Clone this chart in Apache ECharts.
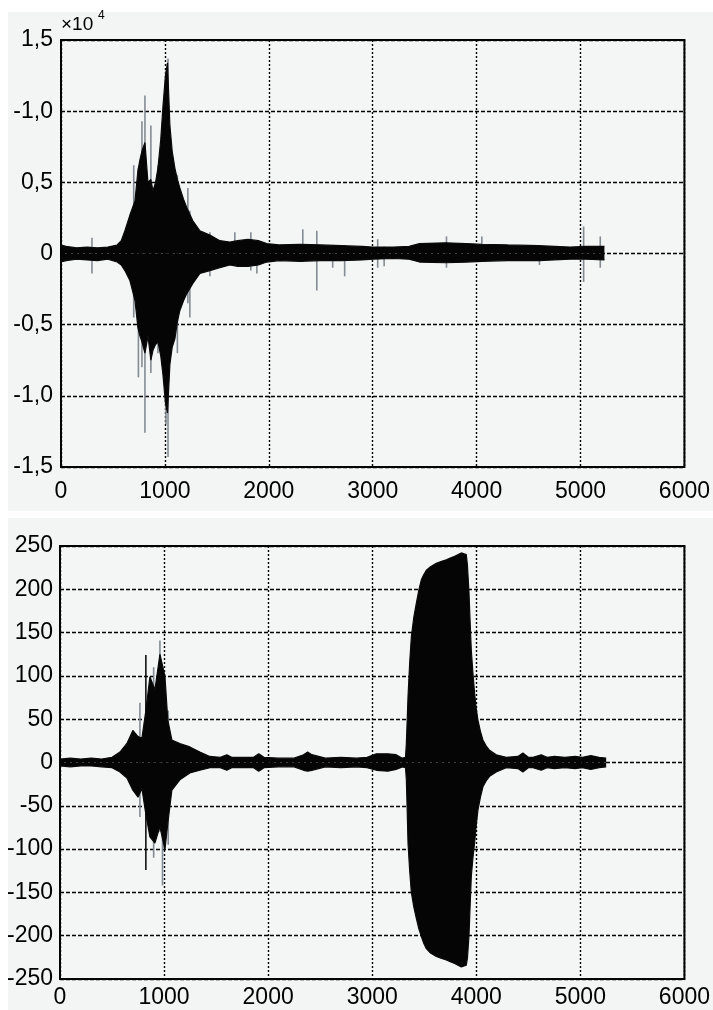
<!DOCTYPE html>
<html>
<head>
<meta charset="utf-8">
<script src="https://cdn.jsdelivr.net/npm/echarts@6/dist/echarts.min.js"></script>
<style>
html,body{margin:0;padding:0;background:#ffffff;}
#chart{width:713px;height:1010px;}
</style>
</head>
<body>
<div id="chart"></div>
<script>
// ---------- Top panel (values in units of 10^4) ----------
var topX  = [0,50,150,250,350,450,540,580,615,663,712,740,760,779,808,837,865,885,910,933,960,981,1005,1025,1048,1070,1096,1120,1144,1180,1212,1269,1337,1433,1529,1625,1700,1800,1900,1980,2100,2300,2500,2700,2900,3000,3200,3350,3450,3700,3900,4050,4300,4600,4900,5050,5230];
var topHi = [0.06,0.05,0.04,0.045,0.04,0.045,0.06,0.09,0.16,0.27,0.37,0.58,0.66,0.72,0.78,0.50,0.52,0.44,0.50,0.60,0.80,1.03,1.25,1.34,0.90,0.72,0.60,0.52,0.46,0.38,0.32,0.23,0.16,0.13,0.09,0.08,0.09,0.10,0.09,0.07,0.06,0.065,0.06,0.055,0.05,0.045,0.045,0.05,0.07,0.075,0.07,0.065,0.06,0.055,0.045,0.05,0.05];
var topLo = [-0.06,-0.05,-0.04,-0.045,-0.05,-0.04,-0.06,-0.08,-0.12,-0.19,-0.33,-0.52,-0.58,-0.62,-0.70,-0.58,-0.75,-0.68,-0.64,-0.62,-0.72,-0.85,-1.05,-1.12,-0.78,-0.66,-0.60,-0.48,-0.40,-0.33,-0.28,-0.21,-0.14,-0.12,-0.10,-0.08,-0.09,-0.09,-0.08,-0.06,-0.05,-0.055,-0.05,-0.05,-0.045,-0.04,-0.035,-0.04,-0.06,-0.065,-0.06,-0.055,-0.05,-0.05,-0.04,-0.04,-0.045];
var topSpikeX  = [298,700,745,779,808,865,933,1010,1030,1120,1221,1240,1433,1673,1827,1885,2327,2462,2615,2730,3048,3110,3710,4050,4605,5030,5190];
var topSpikeHi = [0.11,0.62,0.60,0.93,1.11,0.90,0.62,1.28,1.37,0.55,0.46,0.30,0.15,0.15,0.15,0.08,0.17,0.16,0.06,0.06,0.10,0.05,0.12,0.12,0.05,0.19,0.12];
var topSpikeLo = [-0.14,-0.45,-0.87,-0.80,-1.26,-0.84,-0.70,-1.20,-1.43,-0.70,-0.35,-0.45,-0.16,-0.08,-0.12,-0.14,-0.06,-0.26,-0.10,-0.16,-0.10,-0.09,-0.10,-0.06,-0.08,-0.20,-0.10];
var topYLabels = ['-1,5','-1,0','-0,5','0','0,5','-1,0','1,5'];   // bottom to top, as printed
var topYTicks  = [-1.5,-1.0,-0.5,0,0.5,1.0,1.5];

// ---------- Bottom panel ----------
var botX  = [0,100,200,300,400,500,576,643,700,750,787,825,864,912,960,1008,1036,1075,1152,1248,1344,1440,1540,1603,1650,1750,1860,1910,1960,2100,2250,2340,2380,2420,2550,2700,2850,2950,3040,3150,3230,3290,3320,3328,3335,3344,3360,3376,3400,3424,3448,3472,3496,3520,3560,3616,3660,3712,3750,3792,3856,3904,3915,3930,3940,3952,3968,3984,4000,4016,4040,4064,4096,4128,4192,4288,4400,4448,4500,4544,4624,4680,4750,4850,4950,5020,5100,5180,5248];
var botHi = [4,5,4,5,4,6,12,22,37,30,28,60,99,84,125,100,49,26,22,18,12,7,6,9,6,6,6,10,6,5,5,9,12,9,5,6,5,6,10,10,9,5,6,22,45,76,115,145,168,184,199,211,217,222,226,230,232,234,236,238,242,240,228,196,165,130,103,80,62,49,36,26,19,14,9,6,7,11,6,6,9,6,7,6,7,6,8,6,5];
var botLo = [-4,-5,-4,-4,-5,-6,-11,-18,-32,-40,-30,-60,-86,-93,-74,-101,-70,-32,-20,-12,-9,-6,-6,-9,-6,-6,-6,-10,-6,-5,-5,-9,-10,-9,-5,-6,-5,-6,-9,-10,-8,-5,-6,-20,-50,-93,-125,-150,-167,-180,-192,-201,-209,-215,-220,-224,-226,-228,-230,-232,-236,-234,-226,-200,-168,-132,-110,-93,-72,-55,-40,-28,-21,-16,-11,-6,-7,-11,-6,-6,-9,-6,-7,-6,-7,-6,-8,-6,-5];
var botSpikeX  = [768,825,900,960,985,1040];
var botSpikeHi = [69,124,110,141,110,60];
var botSpikeLo = [-63,-124,-110,-80,-142,-95];
var botSpikeBlack = [false,true,false,false,false,false];

function pairs(xs, ys){ return xs.map(function(x,i){ return [x, ys[i]]; }); }
function spikes(xs, hi, lo){ return xs.map(function(x,i){ return [x, hi[i], lo[i], i]; }); }

var FONT = "'Liberation Sans', Arial, Helvetica, sans-serif";
var FS = 23;
var chart = echarts.init(document.getElementById('chart'), null, {renderer:'canvas'});

function spikeRender(blackFlags){
  return function(params, api){
    var a = api.coord([api.value(0), api.value(1)]);
    var b = api.coord([api.value(0), api.value(2)]);
    var idx = api.value(3);
    var black = blackFlags && blackFlags[idx];
    return {type:'line', shape:{x1:a[0],y1:a[1],x2:b[0],y2:b[1]},
            style:{stroke: black ? '#050505' : '#7d868d', lineWidth: 1.6, opacity: 0.95}};
  };
}

function plainNum(v){ return String(v); }

var option = {
  animation:false,
  backgroundColor:'#ffffff',
  graphic:[
    {type:'rect', z:-10, shape:{x:8,y:12,width:705,height:499}, style:{fill:'#f3f4f4'}},
    {type:'rect', z:-10, shape:{x:8,y:518,width:705,height:492}, style:{fill:'#f3f4f4'}},
    {type:'text', x:61, y:15, z:10, style:{text:'×10', fontSize:19, fontFamily:FONT, fill:'#000'}},
    {type:'text', x:98, y:10, z:10, style:{text:'4', fontSize:12, fontFamily:FONT, fill:'#000'}}
  ],
  grid:[
    {left:61, top:40, width:624, height:427, show:true, backgroundColor:'#f4f5f5', borderColor:'#000', borderWidth:2, z:0},
    {left:60, top:546, width:625, height:433, show:true, backgroundColor:'#f4f5f5', borderColor:'#000', borderWidth:2, z:0}
  ],
  xAxis:[
    {gridIndex:0, type:'value', min:0, max:6000, interval:1000,
     axisLine:{show:false}, axisTick:{show:false},
     axisLabel:{color:'#000', fontSize:FS, fontFamily:FONT, margin:13, formatter:plainNum},
     splitLine:{show:true, lineStyle:{color:'#000', type:[2,2], width:1.4}}},
    {gridIndex:1, type:'value', min:0, max:6000, interval:1000,
     axisLine:{show:false}, axisTick:{show:false},
     axisLabel:{color:'#000', fontSize:FS, fontFamily:FONT, margin:7, formatter:plainNum},
     splitLine:{show:true, lineStyle:{color:'#000', type:[2,2], width:1.4}}}
  ],
  yAxis:[
    {gridIndex:0, type:'value', min:-1.5, max:1.5, interval:0.5,
     axisLine:{show:false}, axisTick:{show:false},
     axisLabel:{color:'#000', fontSize:FS, fontFamily:FONT, margin:8,
       formatter:function(v){ for(var i=0;i<topYTicks.length;i++){ if(Math.abs(topYTicks[i]-v)<1e-6) return topYLabels[i]; } return ''; }},
     splitLine:{show:true, lineStyle:{color:'#000', type:[4,2], width:1.4}}},
    {gridIndex:1, type:'value', min:-250, max:250, interval:50,
     axisLine:{show:false}, axisTick:{show:false},
     axisLabel:{color:'#000', fontSize:FS, fontFamily:FONT, margin:7, formatter:plainNum},
     splitLine:{show:true, lineStyle:{color:'#000', type:[4,2], width:1.4}}}
  ],
  series:[
    {type:'custom', xAxisIndex:0, yAxisIndex:0, renderItem:spikeRender(null), data:spikes(topSpikeX, topSpikeHi, topSpikeLo), z:2},
    {type:'line', xAxisIndex:0, yAxisIndex:0, data:pairs(topX, topHi), showSymbol:false, z:3,
     lineStyle:{color:'#0a0a0a', width:1.2}, areaStyle:{color:'#050505', opacity:1}},
    {type:'line', xAxisIndex:0, yAxisIndex:0, data:pairs(topX, topLo), showSymbol:false, z:3,
     lineStyle:{color:'#0a0a0a', width:1.2}, areaStyle:{color:'#050505', opacity:1}},
    {type:'custom', xAxisIndex:1, yAxisIndex:1, renderItem:spikeRender(botSpikeBlack), data:spikes(botSpikeX, botSpikeHi, botSpikeLo), z:2},
    {type:'line', xAxisIndex:1, yAxisIndex:1, data:pairs(botX, botHi), showSymbol:false, z:3,
     lineStyle:{color:'#0a0a0a', width:1.2}, areaStyle:{color:'#050505', opacity:1}},
    {type:'line', xAxisIndex:1, yAxisIndex:1, data:pairs(botX, botLo), showSymbol:false, z:3,
     lineStyle:{color:'#0a0a0a', width:1.2}, areaStyle:{color:'#050505', opacity:1}}
  ]
};
chart.setOption(option);
</script>
</body>
</html>
